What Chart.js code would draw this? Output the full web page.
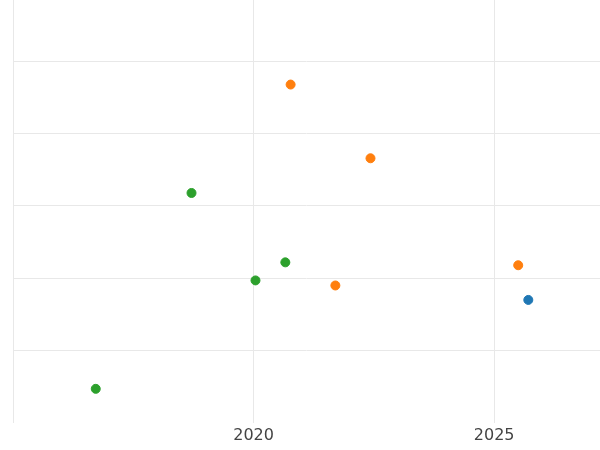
<!DOCTYPE html>
<html>
<head>
<meta charset="utf-8">
<script src="https://cdn.jsdelivr.net/npm/chart.js@4"></script>
<style>html,body{margin:0;padding:0;background:#fff}#wrap{width:600px;height:450px}</style>
</head>
<body>
<div id="wrap"><canvas id="c"></canvas></div>
<script>
// Series
const greenPts = [
  { x: 2016.72, y: 0.47 }, { x: 2018.71, y: 3.18 },
  { x: 2020.04, y: 1.97 }, { x: 2020.66, y: 2.22 }
];
const orangePts = [
  { x: 2020.77, y: 4.68 }, { x: 2022.43, y: 3.66 },
  { x: 2021.70, y: 1.90 }, { x: 2025.50, y: 2.18 }
];
const bluePts = [{ x: 2025.71, y: 1.70 }];
const xTicks = [2015, 2020, 2025];
const yTicks = [1, 2, 3, 4, 5];

const ds = (data, color) => ({ data, backgroundColor: color, borderColor: color, pointRadius: 4.5, pointHoverRadius: 4.5 });

new Chart(document.getElementById('c'), {
  type: 'scatter',
  data: { datasets: [ds(greenPts, '#2ca02c'), ds(orangePts, '#ff7f0e'), ds(bluePts, '#1f77b4')] },
  options: {
    responsive: true, maintainAspectRatio: false, animation: false,
    layout: { autoPadding: false, padding: { left: 13, top: 0, right: 0, bottom: 2 } },
    plugins: { legend: { display: false }, tooltip: { enabled: false } },
    scales: {
      x: {
        type: 'linear', min: 2015, max: 2027.2,
        afterBuildTicks: a => { a.ticks = xTicks.map(v => ({ value: v })); },
        ticks: { callback: v => v === 2015 ? '' : String(v), color: '#444', font: { family: 'DejaVu Sans', size: 16 }, padding: 3, maxRotation: 0 },
        grid: { color: '#e8e8e8', drawTicks: false },
        border: { display: false }
      },
      y: {
        min: 0, max: 5.85,
        afterBuildTicks: a => { a.ticks = yTicks.map(v => ({ value: v })); },
        afterFit: a => { a.width = 0; },
        ticks: { display: false },
        grid: { color: '#e8e8e8', drawTicks: false },
        border: { display: false }
      }
    }
  }
});
</script>
</body>
</html>
